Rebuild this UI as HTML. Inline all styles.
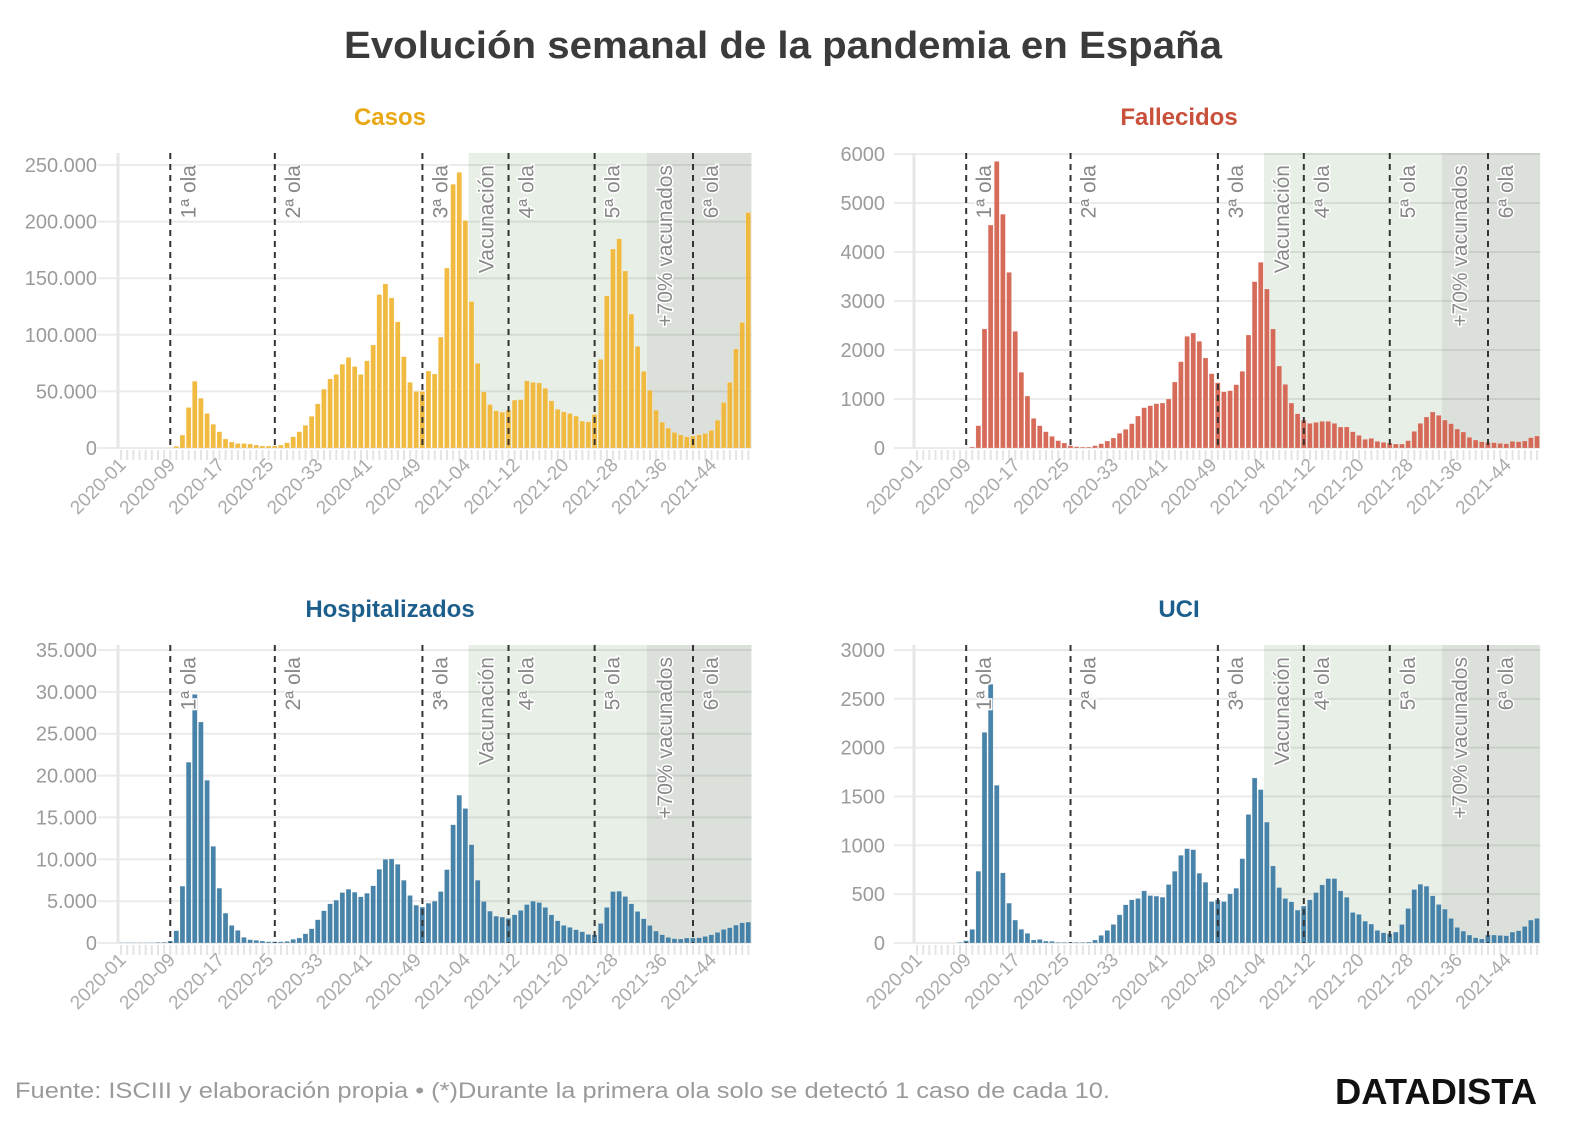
<!DOCTYPE html>
<html><head><meta charset="utf-8">
<style>
html,body{margin:0;padding:0;background:#fff;}
svg{display:block;font-family:"Liberation Sans",sans-serif;}
</style></head>
<body>
<svg id="chart" width="1582" height="1142" viewBox="0 0 1582 1142" xmlns="http://www.w3.org/2000/svg">
<text x="783" y="58" text-anchor="middle" font-size="38" font-weight="bold" fill="#3b3b3b" textLength="878" lengthAdjust="spacingAndGlyphs">Evolución semanal de la pandemia en España</text>
<text x="15" y="1098" font-size="22" fill="#9a9a9a" textLength="1095" lengthAdjust="spacingAndGlyphs">Fuente: ISCIII y elaboración propia • (*)Durante la primera ola solo se detectó 1 caso de cada 10.</text>
<text x="1537" y="1104" text-anchor="end" font-size="36" font-weight="bold" fill="#111" textLength="202" lengthAdjust="spacingAndGlyphs">DATADISTA</text>
<g id="panels"></g>
</svg>
<script>
const casosValues = [0,0,0,0,0,0,0,0,300,1500,
11400,35800,59000,44000,30500,21000,14400,8000,5300,4000,
4000,3500,2600,1800,1800,1800,2600,4700,10000,14400,
20000,28000,39000,52000,61000,65000,74000,80000,72000,65000,
77000,91000,135600,145000,132600,111500,80700,58000,50000,50000,
68000,65400,98000,159000,233000,243500,201000,129400,74800,49600,
38400,32900,31700,33500,42300,42800,59300,58000,57500,52800,
41700,34300,32000,30500,28200,23800,23200,29600,78300,134400,
175800,184900,156400,118300,89800,67800,51000,33500,22900,17600,
13800,11700,10000,10600,11700,12900,15600,24600,40200,58000,
87600,111000,208000];
const fallecidosValues = [0,0,0,0,0,0,0,0,0,20,
456,2430,4550,5850,4770,3585,2380,1545,1060,605,
456,333,238,150,102,48,27,20,20,48,
88,143,204,300,381,497,653,823,864,905,
918,1000,1347,1762,2279,2347,2177,1837,1517,1333,
1150,1170,1293,1565,2306,3395,3789,3245,2429,1673,
1299,918,700,571,503,524,544,544,503,429,
429,333,258,177,197,136,116,102,82,82,
150,340,503,633,735,667,571,497,388,327,
218,163,129,116,109,95,88,136,129,143,
211,245];
const hospValues = [50,50,50,50,50,50,80,100,240,1470,
6790,21600,29700,26400,19440,11550,6550,3570,2100,1510,
675,400,320,240,160,160,160,200,440,600,
1110,1700,2780,3850,4680,5120,6030,6430,6070,5520,
5950,6830,8810,10000,10040,9400,7500,5680,4520,4290,
4760,5000,6150,8770,14130,17660,16070,11750,7500,4960,
3810,3210,3100,2940,3370,3890,4600,5000,4840,4250,
3370,2660,2100,1870,1590,1350,1030,990,2340,4250,
6150,6190,5560,4680,3770,2900,2100,1430,990,675,
520,480,600,600,635,790,990,1270,1630,1830,
2140,2420,2500];
const uciValues = [0,0,0,0,0,0,0,7,24,140,
735,2157,2650,1615,718,408,235,140,99,31,
37,20,17,7,7,7,7,7,10,31,
78,129,190,289,391,442,456,534,486,480,
469,599,735,898,966,956,714,622,425,442,
425,503,561,864,1316,1690,1571,1238,789,568,
456,422,337,378,442,517,595,660,660,534,
469,313,293,224,194,129,105,95,112,190,
354,548,602,582,483,395,347,252,160,122,
82,54,41,82,82,78,75,112,126,170,
235,252];
const casosTicks = [0,50000,100000,150000,200000,250000];
const fallecidosTicks = [0,1000,2000,3000,4000,5000,6000];
const hospTicks = [0,5000,10000,15000,20000,25000,30000,35000];
const uciTicks = [0,500,1000,1500,2000,2500,3000];
const eventNames = ["1ª ola","2ª ola","3ª ola","4ª ola","5ª ola","6ª ola"];
const eventWeeks = [8,25,49,63,77,93];
const periodNames = ["Vacunación","+70% vacunados"];
const periodStarts = [57,86];

// week categories (ISO weeks 2020 has 53)
const weeks = [];
for (let w=1; w<=53; w++) weeks.push("2020-" + String(w).padStart(2,"0"));
for (let w=1; w<=52; w++) weeks.push("2021-" + String(w).padStart(2,"0"));

const NS = "http://www.w3.org/2000/svg";
const root = document.getElementById("panels");
function mk(tag, attrs, parent){
  const e = document.createElementNS(NS, tag);
  for (const k in attrs) e.setAttribute(k, attrs[k]);
  (parent||root).appendChild(e);
  return e;
}
function fmt(v, dots){
  if(!dots) return String(v);
  return String(v).replace(/\B(?=(\d{3})+(?!\d))/g, ".");
}

const panels = [
 {name:"casos", title:"Casos", color:"#e9a915", bar:"#f0b533", values:casosValues, ticks:casosTicks, dots:true,
  x0:118, step:6.15, n:103, top:153, zero:448, tickTopVal:250000, tickTopY:165, tx:390, ty:125, lx:97},
 {name:"fallecidos", title:"Fallecidos", color:"#c9513b", bar:"#d3604c", values:fallecidosValues, ticks:fallecidosTicks, dots:false,
  x0:914, step:6.139, n:102, top:153, zero:448, tickTopVal:6000, tickTopY:154, tx:1179, ty:125, lx:885},
 {name:"hospitalizados", title:"Hospitalizados", color:"#1d5f8c", bar:"#3a7aa3", values:hospValues, ticks:hospTicks, dots:true,
  x0:118, step:6.15, n:103, top:645, zero:943, tickTopVal:35000, tickTopY:650, tx:390, ty:617, lx:97},
 {name:"uci", title:"UCI", color:"#1d5f8c", bar:"#3a7aa3", values:uciValues, ticks:uciTicks, dots:false,
  x0:914, step:6.139, n:102, top:645, zero:943, tickTopVal:3000, tickTopY:650, tx:1179, ty:617, lx:885}
];

panels.forEach(p=>{
  const g = mk("g", {});
  
  
  const x1 = p.x0 + p.n*p.step;
  const y = v => p.zero - v*(p.zero - p.tickTopY)/p.tickTopVal;
  const xc = i => p.x0 + (i+0.5)*p.step;

  const t = mk("text", {x:p.tx, y:p.ty, "text-anchor":"middle", "font-size":"24", "font-weight":"bold", fill:p.color}, g);
  t.textContent = p.title;
  
  

  // shading periods
  periodStarts.forEach((s, k)=>{
    const xs = p.x0 + s*p.step;
    const xe = k+1 < periodStarts.length ? p.x0 + periodStarts[k+1]*p.step : x1;
    const r = mk("rect", {x:xs, y:p.top, width:xe-xs, height:p.zero-p.top, fill:k==0?"#e7efe6":"#dbe1da"}, g);
    
    
  });

  // gridlines & y labels
  p.ticks.forEach(v=>{
    const l = mk("line", {x1:p.x0-20, x2:x1, y1:y(v), y2:y(v), stroke:"rgba(0,0,0,0.08)", "stroke-width":"2"}, g);
    
    
    const tl = mk("text", {x:p.lx, y:y(v)+7, "text-anchor":"end", "font-size":"20", fill:"#9b9b9b"}, g);
    tl.textContent = fmt(v, p.dots);
    
    
  });
  const ax = mk("line", {x1:p.x0, x2:p.x0, y1:p.top, y2:p.zero, stroke:"#e6e6e6", "stroke-width":"3"}, g);
  
  

  // x ticks
  for (let i=0;i<p.n;i++){
    const tk = mk("line", {x1:xc(i), x2:xc(i), y1:p.zero+2, y2:p.zero+12, stroke:"#e4e4e4", "stroke-width":"2"}, g);
    
    
    if (i % 8 === 0){
      const lx = xc(i)+6, ly = p.zero+18;
      const xl = mk("text", {x:lx, y:ly, "text-anchor":"end", "font-size":"19", fill:"#ababab", transform:`rotate(-45 ${lx} ${ly})`}, g);
      xl.textContent = weeks[i];
      
      
    }
  }

  // bars
  p.values.forEach((v,i)=>{
    const b = mk("rect", {x:xc(i)-p.step/2+0.5, y:y(v), width:p.step-1.2, height:Math.max(0,p.zero-y(v)), fill:p.bar, "fill-opacity":"0.93", stroke:"#fff", "stroke-opacity":"0.5", "stroke-width":"0.4"}, g);
    
    
  });

  // event lines
  eventWeeks.forEach((w,k)=>{
    const xx = xc(w);
    const l = mk("line", {x1:xx, x2:xx, y1:p.top, y2:p.zero, stroke:"#333", "stroke-width":"2", "stroke-dasharray":"6 5"}, g);
    
    
    const lx = xx+25, ly = p.top+12;
    const tx = mk("text", {x:lx, y:ly, "text-anchor":"end", "font-size":"21", fill:"#888", stroke:"#fff", "stroke-width":"3", "paint-order":"stroke", transform:`rotate(-90 ${lx} ${ly})`}, g);
    tx.textContent = eventNames[k];
    
    
  });
  periodStarts.forEach((s,k)=>{
    const lx = p.x0 + s*p.step + 25, ly = p.top+12;
    const tx = mk("text", {x:lx, y:ly, "text-anchor":"end", "font-size":"21", fill:"#888", stroke:"#fff", "stroke-width":"3", "paint-order":"stroke", transform:`rotate(-90 ${lx} ${ly})`}, g);
    tx.textContent = periodNames[k];
    
    
  });
});
</script>
</body></html>
